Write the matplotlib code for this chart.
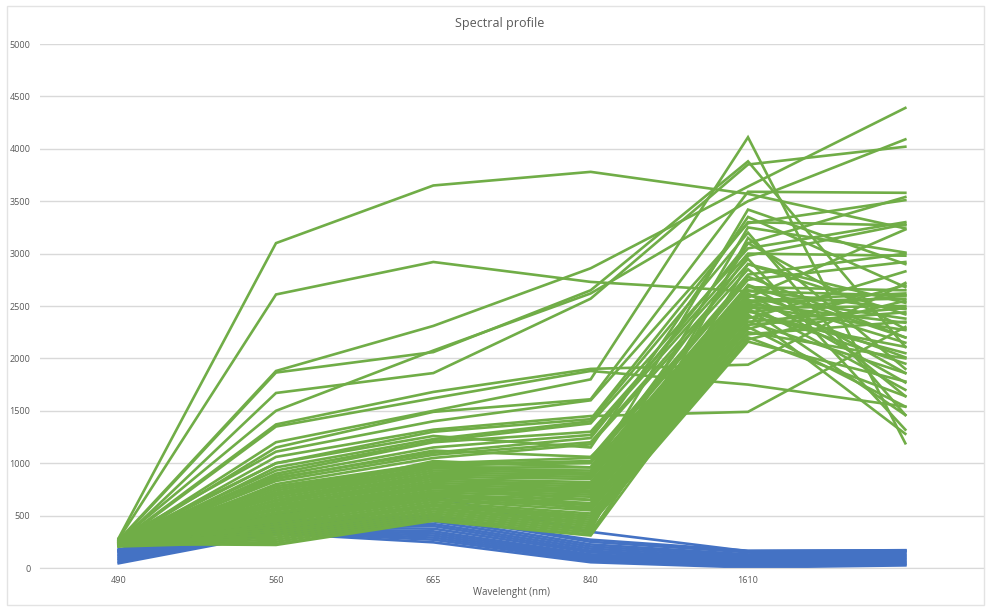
import matplotlib.pyplot as plt
from matplotlib.patches import Rectangle

# wavelength bands on the category axis (last band has no label)
bands = ["490", "560", "665", "840", "1610", ""]

# water pixels (blue)
water = [
    [45, 330, 245, 55, 5, 25],
    [60, 340, 270, 70, 15, 35],
    [75, 350, 290, 85, 25, 45],
    [90, 360, 310, 100, 35, 60],
    [100, 370, 330, 115, 45, 70],
    [115, 380, 350, 130, 60, 85],
    [125, 390, 375, 150, 70, 95],
    [140, 400, 400, 165, 85, 110],
    [150, 410, 420, 185, 100, 120],
    [160, 420, 445, 205, 115, 135],
    [170, 430, 470, 225, 130, 150],
    [178, 440, 500, 250, 150, 160],
    [172, 450, 490, 270, 165, 168],
    [165, 520, 680, 345, 160, 170],
]

# vegetation pixels (green)
vegetation = [
    [285, 3100, 3650, 3780, 3570, 3240],
    [275, 2610, 2920, 2730, 2640, 2600],
    [265, 1880, 2310, 2860, 3640, 4390],
    [255, 1865, 2060, 2650, 3880, 2110],
    [245, 1670, 1860, 2570, 3850, 4020],
    [260, 1500, 2075, 2620, 3500, 4090],
    [250, 1370, 1680, 1900, 1940, 2720],
    [240, 1350, 1620, 1880, 1750, 1540],
    [235, 1200, 1500, 1800, 4110, 1190],
    [230, 1150, 1490, 1610, 3590, 3580],
    [270, 1110, 1400, 1600, 3290, 3510],
    [225, 1060, 1320, 1450, 1490, 2300],
    [260, 1000, 1300, 1420, 3300, 3270],
    [215, 960, 1230, 1400, 3200, 1460],
    [250, 930, 1210, 1380, 3050, 3300],
    [240, 900, 1200, 1300, 3000, 2980],
    [220, 880, 1150, 1270, 2950, 1320],
    [280, 860, 1100, 1240, 3100, 3540],
    [235, 830, 1080, 1200, 2900, 2530],
    [210, 800, 1050, 1180, 2850, 1640],
    [255, 780, 1000, 1050, 2800, 3000],
    [245, 760, 990, 1020, 2780, 2200],
    [230, 740, 980, 1000, 2750, 2920],
    [215, 720, 960, 960, 2700, 1860],
    [270, 700, 950, 930, 2680, 2650],
    [225, 690, 930, 910, 2650, 2470],
    [240, 670, 910, 890, 2620, 1770],
    [205, 650, 890, 870, 2600, 2380],
    [260, 640, 870, 850, 2580, 3230],
    [235, 620, 850, 820, 2560, 2010],
    [220, 600, 830, 800, 2540, 2570],
    [250, 590, 810, 780, 2520, 1700],
    [230, 570, 790, 760, 2500, 2270],
    [215, 560, 770, 740, 2480, 2500],
    [265, 550, 760, 720, 2460, 1950],
    [240, 530, 740, 700, 2440, 2600],
    [225, 520, 720, 680, 2420, 1280],
    [210, 500, 700, 650, 2400, 2110],
    [255, 490, 690, 620, 2380, 2830],
    [235, 470, 680, 600, 2350, 1860],
    [220, 460, 660, 580, 2320, 2440],
    [245, 440, 650, 550, 2300, 1540],
    [230, 420, 630, 520, 2280, 2700],
    [215, 400, 610, 500, 2250, 2000],
    [260, 390, 600, 480, 2230, 2350],
    [240, 370, 590, 460, 2200, 1640],
    [225, 350, 570, 440, 2180, 2550],
    [210, 330, 560, 420, 2160, 1780],
    [250, 310, 540, 400, 2700, 2200],
    [235, 290, 520, 380, 2900, 2420],
    [220, 270, 500, 360, 3150, 1900],
    [205, 250, 480, 340, 2450, 2050],
    [245, 230, 460, 320, 2550, 2620],
    [230, 220, 450, 310, 2350, 2480],
    [265, 610, 980, 900, 3420, 2900],
    [240, 560, 880, 720, 3250, 3010],
    [220, 480, 800, 600, 3100, 2280],
    [255, 700, 1020, 960, 2980, 3280],
    [235, 1000, 1260, 1150, 3350, 2680],
    [215, 850, 1120, 1060, 2480, 1460],
    [250, 520, 780, 650, 2610, 2150],
    [228, 450, 720, 560, 2520, 2340],
]

BLUE = "#4472C4"
GREEN = "#70AD47"
GREY_TXT = "#595959"
GRID = "#D9D9D9"

fig = plt.figure(figsize=(9.86, 6.08), dpi=100)
fig.patch.set_facecolor("white")
ax = fig.add_axes([40 / 986, 40 / 608, 944 / 986, 524 / 608])

x = list(range(len(bands)))
for row in water:
    ax.plot(x, row, color=BLUE, lw=1.9, solid_joinstyle="miter")
for row in vegetation:
    ax.plot(x, row, color=GREEN, lw=1.9, solid_joinstyle="miter")

ax.set_xlim(-0.5, len(bands) - 0.5)
ax.set_ylim(0, 5000)
ax.set_yticks(range(0, 5001, 500))
ax.set_xticks(x)
ax.set_xticklabels(bands)
ax.grid(axis="y", color=GRID, lw=1)
ax.set_axisbelow(True)
for s in ["top", "right", "left"]:
    ax.spines[s].set_visible(False)
ax.spines["bottom"].set_color(GRID)
ax.tick_params(length=0, colors=GREY_TXT, labelsize=6.5)
ax.tick_params(axis="y", pad=7)
ax.tick_params(axis="x", pad=6)
for lab in ax.get_xticklabels() + ax.get_yticklabels():
    lab.set_family("Open Sans")

ax.set_xlabel("Wavelenght (nm)", fontsize=7, color=GREY_TXT, family="Open Sans", labelpad=1)
fig.text(0.507, 0.961, "Spectral profile", ha="center", va="center",
         fontsize=9, color=GREY_TXT, family="Open Sans")

# light frame round the chart area
fig.patches.append(Rectangle((7 / 986, 3 / 608), 977 / 986, 599 / 608,
                             transform=fig.transFigure, fill=False,
                             edgecolor="#E3E3E3", lw=1))

fig.savefig("out.png", dpi=100)
